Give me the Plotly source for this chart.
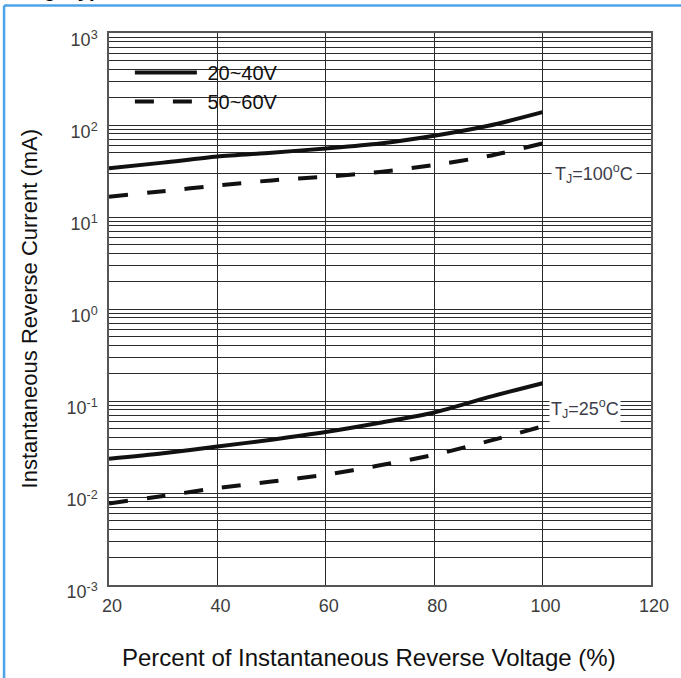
import plotly.graph_objects as go
import numpy as np

# ---- data ----
pct = [20, 30, 40, 50, 60, 70, 80, 90, 100]
i_100c_20_40v = [33.8, 39.0, 45.4, 50.0, 55.6, 63.0, 76.4, 98.0, 138.0]
i_100c_50_60v = [16.6, 19.1, 22.0, 25.0, 27.4, 30.9, 36.8, 46.0, 63.0]
i_25c_20_40v = [0.0235, 0.027, 0.032, 0.038, 0.046, 0.058, 0.075, 0.11, 0.156]
i_25c_50_60v = [0.0077, 0.0093, 0.0113, 0.0133, 0.0158, 0.020, 0.026, 0.0366, 0.053]

series_names = ["20~40V", "50~60V"]
x_ticks = [20, 40, 60, 80, 100, 120]
y_tick_vals = [1e-3, 1e-2, 1e-1, 1e0, 1e1, 1e2, 1e3]
y_tick_text = ["10<sup>-3</sup>", "10<sup>-2</sup>", "10<sup>-1</sup>", "10<sup>0</sup>",
               "10<sup>1</sup>", "10<sup>2</sup>", "10<sup>3</sup>"]
# minor grid lines as drawn on the datasheet (20 and 40 mA missing)
y_minor = [m * 10.0 ** e for e in range(-3, 3) for m in range(2, 10)
           if not (e == 1 and m in (2, 4))]

W, H = 681, 678
ML, MR, MT, MB = 109, 27, 33, 93
PW, PH = W - ML - MR, H - MT - MB


def px_x(p):
    return (p - ML) / PW


def px_y(p):
    return (H - MB - p) / PH


fig = go.Figure()
line_w = 4
for i, (xs, ys, dash) in enumerate([
    (pct, i_100c_20_40v, "solid"),
    (pct, i_100c_50_60v, "19px,19px"),
    (pct, i_25c_20_40v, "solid"),
    (pct, i_25c_50_60v, "19px,19px"),
]):
    fig.add_trace(go.Scatter(
        x=xs, y=ys, mode="lines",
        line=dict(color="#111111", width=line_w, dash=dash, shape="spline", smoothing=0.8),
        name="\u00a0" + series_names[i % 2], showlegend=(i < 2),
    ))

sans = "Liberation Sans, Arial"
tick_font = dict(family=sans, size=18, color="#3d3d3d")
grid_c = "#2b2b2b"

fig.update_xaxes(
    range=[20, 120], tickvals=x_ticks, showgrid=True, gridcolor=grid_c, gridwidth=1.2,
    showline=True, linecolor="#555555", linewidth=1.5, mirror=True, zeroline=False,
    ticks="", tickfont=tick_font, ticklabelshift=3, ticklabelstandoff=4,
)
fig.update_yaxes(
    type="log", range=[-3, 3], tickvals=y_tick_vals, ticktext=y_tick_text,
    showgrid=True, gridcolor=grid_c, gridwidth=1.2,
    minor=dict(tickvals=y_minor, showgrid=True, gridcolor=grid_c, gridwidth=1.2, ticks=""),
    showline=True, linecolor="#555555", linewidth=1.5, mirror=True, zeroline=False,
    ticks="", tickfont=tick_font, ticklabelshift=7, ticklabelstandoff=6,
)

annotations = [
    dict(text="Percent of Instantaneous Reverse Voltage (%)", xref="paper", yref="paper",
         x=px_x(370), y=px_y(657), xanchor="center", yanchor="middle", showarrow=False,
         font=dict(family=sans, size=24, color="#111111")),
    dict(text="Instantaneous Reverse Current (mA)", xref="paper", yref="paper",
         x=px_x(29), y=px_y(308), xanchor="center", yanchor="middle", textangle=-90,
         showarrow=False, font=dict(family=sans, size=22, color="#111111")),
    dict(text="T<sub>J</sub>=100<sup>o</sup>C", x=109.4, y=np.log10(30), xref="x", yref="y",
         showarrow=False, bgcolor="white", borderpad=3,
         font=dict(family=sans, size=18, color="#3d3d4a")),
    dict(text="T<sub>J</sub>=25<sup>o</sup>C", x=107.9, y=np.log10(0.082), xref="x", yref="y",
         showarrow=False, bgcolor="white", borderpad=1,
         font=dict(family=sans, size=18, color="#3d3d4a")),
    dict(text="<b>Fig. Typical Reverse Characteristics</b>", xref="paper", yref="paper",
         x=px_x(24), y=px_y(1), xanchor="left", yanchor="bottom", yshift=-2, showarrow=False,
         font=dict(family=sans, size=20, color="#000000")),
]

shapes = [
    # white legend panel
    dict(type="rect", xref="paper", yref="paper", x0=px_x(123), x1=px_x(351),
         y0=px_y(120), y1=px_y(50), fillcolor="white", line=dict(width=0), layer="between"),
    # light blue frame lines of the figure box
    dict(type="line", xref="paper", yref="paper", x0=px_x(3.5), x1=px_x(700),
         y0=px_y(5.5), y1=px_y(5.5), line=dict(color="#4da3ea", width=2.5), layer="above"),
    dict(type="line", xref="paper", yref="paper", x0=px_x(3.5), x1=px_x(3.5),
         y0=px_y(5.5), y1=px_y(700), line=dict(color="#4da3ea", width=2.5), layer="above"),
]

fig.update_layout(
    width=W, height=H, margin=dict(l=ML, r=MR, t=MT, b=MB, pad=0),
    paper_bgcolor="white", plot_bgcolor="white",
    showlegend=True,
    legend=dict(x=px_x(130), y=px_y(53), xanchor="left", yanchor="top",
                bgcolor="rgba(0,0,0,0)", borderwidth=0, itemwidth=62,
                tracegroupgap=0,
                font=dict(family=sans, size=20, color="#111111")),
    annotations=annotations, shapes=shapes,
)

fig.write_html("out.html", config={"displayModeBar": False},
               post_script="document.body.style.margin='0';document.body.style.overflow='hidden';")
